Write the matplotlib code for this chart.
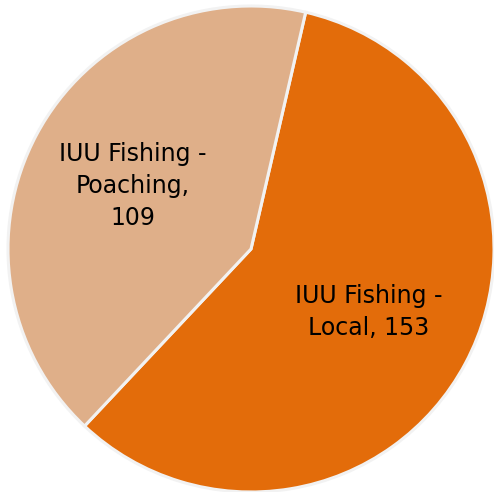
import matplotlib.pyplot as plt

categories = ['IUU Fishing -\nLocal', 'IUU Fishing -\nPoaching']
values = [153, 109]
colors = ['#E36C0A', '#DFAF89']

fig = plt.figure(figsize=(4.94, 4.92), dpi=100)
ax = fig.add_axes([0, 0, 1, 1])

total = sum(values)


def make_label(pct):
    v = int(round(pct * total / 100.0))
    name = categories[values.index(v)]
    if 'Poaching' in name:
        return name.replace('Poaching', 'Poaching,') + '\n' + str(v)
    return name + ', ' + str(v)


wedges, texts, autotexts = ax.pie(
    values, colors=colors, startangle=77, counterclock=False,
    autopct=make_label, pctdistance=0.55,
    wedgeprops={'edgecolor': '#F2F2F2', 'linewidth': 2.2},
    textprops={'fontsize': 17, 'color': 'black', 'ha': 'center'})

for t in autotexts:
    t.set_linespacing(1.4)

ax.set_xlim(-251 / 243, 243 / 243)
ax.set_ylim(-243 / 243, 249 / 243)
ax.set_aspect('equal')
ax.axis('off')

fig.savefig('out.png', dpi=100)
